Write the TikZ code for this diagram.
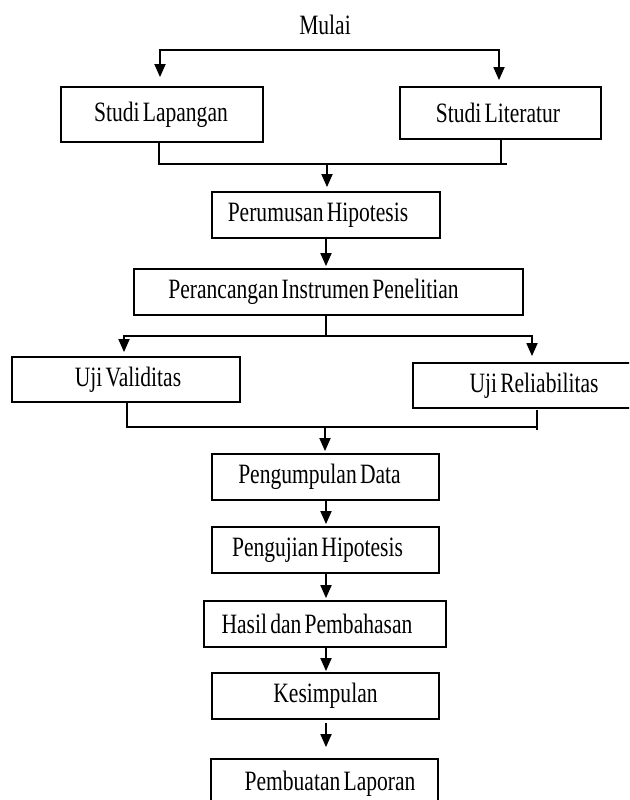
\documentclass[tikz,border=0pt]{standalone}
\usepackage{fontspec}
\setmainfont[FakeStretch=0.77,WordSpace=0.6]{Liberation Serif}
\usetikzlibrary{arrows.meta}
\begin{document}
\begin{tikzpicture}[x=1pt,y=-1pt,
  ln/.style={line width=1.8pt,line cap=rect},
  arr/.style={line width=1.8pt,-{Triangle[width=11pt,length=13pt]}},
  box/.style={draw,line width=1.8pt,inner sep=0pt,font=\fontsize{28}{32}\selectfont},
  txt/.style={font=\fontsize{28}{32}\selectfont,inner sep=0pt}]
\useasboundingbox (0,0) rectangle (629,800);
\clip (0,0) rectangle (629,800);
\fill[white] (0,0) rectangle (629,800);

\node[txt] (mulai) at (325,25) {Mulai};

\node[box,minimum width=202pt,minimum height=55pt] (SL) at (162,114.5) {Studi Lapangan\kern2pt};
\node[box,minimum width=201pt,minimum height=52pt] (SLit) at (500.5,113) {Studi Literatur\kern5pt};
\node[box,minimum width=228pt,minimum height=46pt] (PH) at (326,215) {Perumusan Hipotesis\kern16pt};
\node[box,minimum width=389pt,minimum height=46pt] (PI) at (328.5,292) {Perancangan Instrumen Penelitian\kern30pt};
\node[box,minimum width=228pt,minimum height=45pt] (UV) at (126,379.5) {\kern4pt Uji Validitas};
\node[box,minimum width=247pt,minimum height=45pt] (UR) at (536.5,385.5) {Uji Reliabilitas\kern5pt};
\node[box,minimum width=227pt,minimum height=46pt] (PD) at (325.5,477) {Pengumpulan Data\kern12pt};
\node[box,minimum width=227pt,minimum height=46pt] (PHy) at (325.5,550) {Pengujian Hipotesis\kern16pt};
\node[box,minimum width=242pt,minimum height=46pt] (HP) at (325,624) {Hasil dan Pembahasan\kern16pt};
\node[box,minimum width=227pt,minimum height=46pt] (K) at (325.5,696) {Kesimpulan};
\node[box,minimum width=227pt,minimum height=49pt] (PL) at (324.5,783.5) {\kern11pt Pembuatan Laporan};

% top split
\coordinate (t0L) at (160,50);
\coordinate (t0R) at (499,50);
\draw[ln] (t0L) -- (t0R);
\draw[arr,shorten >=9pt] (t0L) -- (t0L |- SL.north);
\draw[arr,shorten >=6pt] (t0R) -- (t0R |- SLit.north);

% merge 1
\coordinate (j1L) at (159,164);
\coordinate (j1R) at (506,164);
\coordinate (j1r) at (501,164);
\coordinate (j1) at (327,164);
\draw[ln] (SL.south -| j1L) -- (j1L) -- (j1R);
\draw[ln] (SLit.south -| j1r) -- (j1r);
\draw[arr,shorten >=4pt] (j1) -- (j1 |- PH.north);

\draw[arr,shorten >=2pt] (PH.south -| 326,0) -- (PI.north -| 326,0);

% split 2
\coordinate (j2) at (326,336);
\coordinate (j2L) at (124,336);
\coordinate (j2R) at (532,336);
\draw[ln] (PI.south -| j2) -- (j2);
\draw[ln] (j2L) -- (j2R);
\draw[arr,shorten >=4pt] (j2L) -- (j2L |- UV.north);
\draw[arr,shorten >=6pt] (j2R) -- (j2R |- UR.north);

% merge 2
\coordinate (j3L) at (127,427);
\coordinate (j3R) at (537,427);
\coordinate (j3r) at (537,429);
\coordinate (j3) at (325,427);
\draw[ln] (UV.south -| j3L) -- (j3L) -- (j3R);
\draw[ln] ([yshift=-2pt]UR.south -| j3r) -- (j3r);
\draw[arr,shorten >=2pt] (j3) -- (j3 |- PD.north);

\draw[arr,shorten >=2pt] (PD.south -| 326,0) -- (PHy.north -| 326,0);
\draw[arr,shorten >=2pt] (PHy.south -| 326,0) -- (HP.north -| 326,0);
\draw[arr,shorten >=1pt] (HP.south -| 326,0) -- (K.north -| 326,0);
\draw[arr,shorten <=3pt,shorten >=11pt] (K.south -| 326,0) -- (PL.north -| 326,0);
\end{tikzpicture}
\end{document}
